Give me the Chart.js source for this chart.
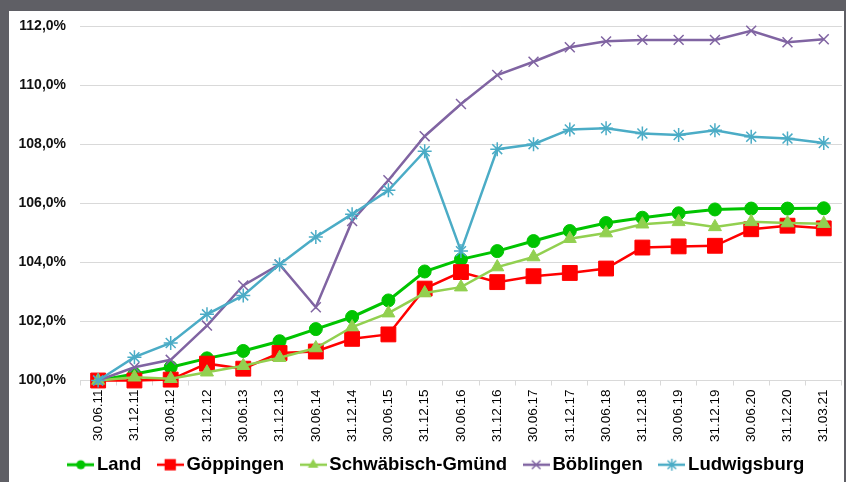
<!DOCTYPE html>
<html>
<head>
<meta charset="utf-8">
<script src="https://cdn.jsdelivr.net/npm/chart.js@4.4.1/dist/chart.umd.min.js"></script>
<style>
  body { margin: 0; background: #5f5f65; width: 846px; height: 482px; overflow: hidden; }
  #wrap { position: absolute; left: 9px; top: 11px; width: 835px; height: 471px; background: #fff; overflow: hidden; }
</style>
</head>
<body>
<div id="wrap"><canvas id="chart" width="835" height="483"></canvas></div>
<script>
// ===== data =====
const dates = ["30.06.11", "31.12.11", "30.06.12", "31.12.12", "30.06.13", "31.12.13", "30.06.14",
    "31.12.14", "30.06.15", "31.12.15", "30.06.16", "31.12.16", "30.06.17", "31.12.17", "30.06.18",
    "31.12.18", "30.06.19", "31.12.19", "30.06.20", "31.12.20", "31.03.21"];

const land = [100.0, 100.22, 100.45, 100.75, 101.0, 101.33, 101.74, 102.15, 102.71, 103.69, 104.1,
    104.38, 104.72, 105.06, 105.33, 105.51, 105.66, 105.79, 105.82, 105.82, 105.83];
const goeppingen = [100.0, 100.0, 100.03, 100.57, 100.4, 100.93, 100.98, 101.41, 101.56, 103.11, 103.67,
    103.33, 103.53, 103.64, 103.79, 104.5, 104.54, 104.56, 105.12, 105.24, 105.15];
const gmuend = [100.0, 100.11, 100.06, 100.28, 100.5, 100.77, 101.1, 101.81, 102.28, 102.96, 103.16,
    103.84, 104.18, 104.8, 104.99, 105.29, 105.37, 105.2, 105.37, 105.33, 105.31];
const boeblingen = [100.0, 100.45, 100.7, 101.86, 103.22, 103.93, 102.48, 105.4, 106.78, 108.27, 109.36,
    110.34, 110.79, 111.28, 111.48, 111.53, 111.53, 111.53, 111.84, 111.45, 111.55];
const ludwigsburg = [100.0, 100.79, 101.27, 102.24, 102.88, 103.93, 104.86, 105.63, 106.44, 107.76, 104.38,
    107.83, 108.0, 108.5, 108.54, 108.36, 108.31, 108.47, 108.25, 108.19, 108.04];

const seriesNames = ["Land", "Göppingen", "Schwäbisch-Gmünd", "Böblingen", "Ludwigsburg"];
const yTicks = [100, 102, 104, 106, 108, 110, 112];

// ===== styles =====
const styles = [
    { color: "#00c400", point: "circle", radius: 6.5, legendRadius: 4.5, line: 3 },
    { color: "#ff0000", point: "rect", radius: 10.5, legendRadius: 8, line: 2.5 },
    { color: "#92d050", point: "triangle", radius: 7.5, legendRadius: 6, line: 2.5 },
    { color: "#8064a2", point: "crossRot", radius: 7, legendRadius: 6, line: 2.5 },
    { color: "#4bacc6", point: "star", radius: 7, legendRadius: 6, line: 2.5 },
];
const values = [land, goeppingen, gmuend, boeblingen, ludwigsburg];

function drawMarker(g, style, r, x, y) {
    g.beginPath();
    if (style === "circle") {
        g.arc(x, y, r, 0, Math.PI * 2);
        g.fill();
    } else if (style === "rect") {
        const s = Math.SQRT1_2 * r;
        g.rect(x - s, y - s, 2 * s, 2 * s);
        g.fill();
    } else if (style === "triangle") {
        g.moveTo(x, y - r);
        g.lineTo(x + r * 0.866, y + r / 2);
        g.lineTo(x - r * 0.866, y + r / 2);
        g.closePath();
        g.fill();
    } else {
        const a = r * Math.SQRT1_2;
        g.moveTo(x - a, y - a); g.lineTo(x + a, y + a);
        g.moveTo(x + a, y - a); g.lineTo(x - a, y + a);
        if (style === "star") {
            g.moveTo(x, y - r); g.lineTo(x, y + r);
            g.moveTo(x - r, y); g.lineTo(x + r, y);
        }
        g.lineWidth = 1.5;
        g.stroke();
    }
}

// legend icon: short line with the marker on it
function legendIcon(st) {
    const c = document.createElement("canvas");
    c.width = 27;
    c.height = 18;
    const g = c.getContext("2d");
    g.strokeStyle = st.color;
    g.fillStyle = st.color;
    g.lineWidth = st.line;
    g.beginPath();
    g.moveTo(0, 9);
    g.lineTo(27, 9);
    g.stroke();
    drawMarker(g, st.point, st.legendRadius, 13.5, 9);
    return c;
}
const icons = styles.map(legendIcon);

const datasets = seriesNames.map((name, i) => ({
    label: name,
    data: values[i],
    borderColor: styles[i].color,
    backgroundColor: styles[i].color,
    pointBackgroundColor: styles[i].color,
    pointBorderColor: styles[i].color,
    borderWidth: styles[i].line,
    pointStyle: styles[i].point,
    pointRadius: styles[i].radius,
    pointBorderWidth: (styles[i].point === "crossRot" || styles[i].point === "star") ? 1.5 : 1,
    tension: 0,
    clip: false,
    order: 4 - i,
}));

// move the legend a bit right and up, like the original
const legendShift = {
    id: "legendShift",
    afterLayout(chart) {
        const lg = chart.legend;
        lg.left += 9;
        lg.right += 9;
        lg.top -= 10;
        lg.bottom -= 10;
    },
};

new Chart(document.getElementById("chart"), {
    type: "line",
    data: { labels: dates, datasets },
    plugins: [legendShift],
    options: {
        responsive: false,
        animation: false,
        events: [],
        layout: { autoPadding: false, padding: { left: 8, right: 1, top: 15, bottom: 0 } },
        plugins: {
            tooltip: { enabled: false },
            legend: {
                position: "bottom",
                labels: {
                    usePointStyle: true,
                    pointStyleWidth: 14,
                    padding: 22,
                    color: "#000",
                    font: { family: "Liberation Sans, Arial, sans-serif", size: 18.5, weight: "bold" },
                    generateLabels: chart => chart.data.datasets.map((ds, i) => ({
                        text: ds.label,
                        pointStyle: icons[i],
                        fillStyle: ds.borderColor,
                        strokeStyle: ds.borderColor,
                        lineWidth: 0,
                        hidden: false,
                        datasetIndex: i,
                        fontColor: "#000",
                    })),
                },
            },
        },
        scales: {
            x: {
                offset: true,
                grid: { offset: true, drawOnChartArea: false, color: "#d9d9d9", tickLength: 5 },
                border: { color: "#d9d9d9" },
                ticks: {
                    minRotation: 90,
                    maxRotation: 90,
                    autoSkip: false,
                    padding: 4,
                    color: "#000",
                    font: { family: "Liberation Sans, Arial, sans-serif", size: 13.5 },
                },
                afterFit: s => { s.height = 63; },
            },
            y: {
                min: 100,
                max: 112,
                afterBuildTicks: s => { s.ticks = yTicks.map(v => ({ value: v })); },
                grid: { color: "#d9d9d9", drawTicks: false },
                border: { display: false },
                ticks: {
                    padding: 14,
                    color: "#111",
                    font: { family: "Liberation Sans, Arial, sans-serif", size: 14, weight: "bold" },
                    callback: v => v.toFixed(1).replace(".", ",") + "%",
                },
                afterFit: s => {
                    s.width = 63;
                    s.paddingTop = 0;
                    s.paddingBottom = 0;
                },
            },
        },
    },
});
</script>
</body>
</html>
